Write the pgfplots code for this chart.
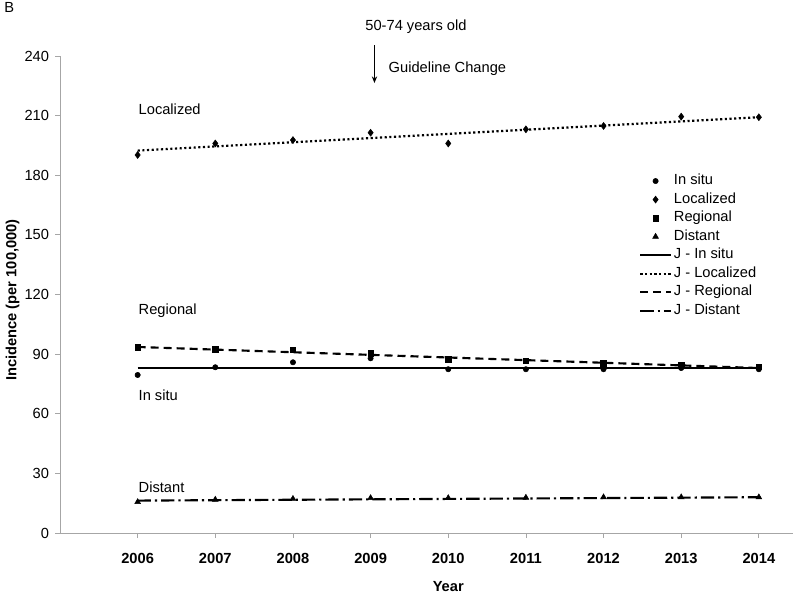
\documentclass[border=0pt]{standalone}
\usepackage{fontspec}
\setmainfont{Liberation Sans}
\usepackage{pgfplots}
\pgfplotsset{compat=1.18}
\usetikzlibrary{arrows.meta}
\begin{document}
\begin{tikzpicture}[font=\fontsize{11}{13}\selectfont]
\useasboundingbox (-45pt,-50.25pt) rectangle (555pt,399.75pt);
\begin{axis}[
  at={(0,0)}, anchor=south west,
  scale only axis, width=549.75pt, height=357.75pt,
  xmin=2005, xmax=2014.44, ymin=0, ymax=240,
  axis lines*=left,
  axis line style={draw=gray!70, line width=0.6pt},
  xtick={2006,2007,2008,2009,2010,2011,2012,2013,2014},
  ytick={0,30,60,90,120,150,180,210,240},
  tick align=outside, major tick length=3.75pt,
  tick style={draw=gray!70, line width=0.6pt},
  /pgf/number format/assume math mode=true,
  /pgf/number format/1000 sep={},
  xticklabel style={font=\bfseries\fontsize{11}{13}\selectfont, yshift=-8pt},
  yticklabel style={font=\fontsize{11}{13}\selectfont, xshift=-1pt},
  clip=false,
  legend style={draw=none, fill=none, at={(0.79,0.7574)}, anchor=north west,
    inner sep=0pt, row sep=0.3pt, font=\fontsize{11}{13}\selectfont,
    nodes={inner sep=1.6pt, text height=7.8pt, text depth=2.6pt}},
  legend cell align=left,
  legend image code/.code={\draw[mark repeat=2,mark phase=2,#1] plot coordinates {(0cm,0cm) (0.4cm,0cm) (0.8cm,0cm)};},
]
% observed points
\addplot[only marks, mark=*, mark size=2pt, black] coordinates {
 (2006,79.5) (2007,83.4) (2008,85.9) (2009,87.9) (2010,82.4) (2011,82.4) (2012,82.4) (2013,83.0) (2014,82.4)};
\addlegendentry{In situ}
\addplot[only marks, mark=diamond*, mark size=2.6pt, black] coordinates {
 (2006,190.2) (2007,196.0) (2008,197.7) (2009,201.4) (2010,196.0) (2011,203.1) (2012,204.8) (2013,209.5) (2014,209.2)};
\addlegendentry{Localized}
\addplot[only marks, mark=square*, mark size=2.1pt, black] coordinates {
 (2006,93.3) (2007,92.4) (2008,92.1) (2009,90.5) (2010,87.4) (2011,86.7) (2012,85.4) (2013,84.5) (2014,83.7)};
\addlegendentry{Regional}
\addplot[only marks, mark=triangle*, mark size=2.5pt, black] coordinates {
 (2006,15.6) (2007,16.8) (2008,17.2) (2009,17.6) (2010,17.6) (2011,17.8) (2012,18.0) (2013,18.0) (2014,18.0)};
\addlegendentry{Distant}
% joinpoint fits
\addplot[black, line width=1.5pt, no marks] coordinates {(2006,83.2) (2014,83.2)};
\addlegendentry{J - In situ}
\addplot[black, line width=1.6pt, dash pattern=on 1.6pt off 1.9pt, no marks] coordinates {(2006,192.4) (2014,209.2)};
\addlegendentry{J - Localized}
\addplot[black, line width=1.6pt, dash pattern=on 6pt off 3.75pt, no marks] coordinates {(2006,93.6) (2014,83.0)};
\addlegendentry{J - Regional}
\addplot[black, line width=1.6pt, dash pattern=on 10pt off 3pt on 1.6pt off 3pt, no marks] coordinates {(2006,16.3) (2014,18.0)};
\addlegendentry{J - Distant}
% annotations
\node[anchor=base west, inner sep=0pt] at (axis cs:2006.01,210.8) {Localized};
\node[anchor=base west, inner sep=0pt] at (axis cs:2006.01,109.7) {Regional};
\node[anchor=base west, inner sep=0pt] at (axis cs:2006.01,66.6) {In situ};
\node[anchor=base west, inner sep=0pt] at (axis cs:2006.01,20.6) {Distant};
\node[anchor=base west, inner sep=0pt] at (axis cs:2008.93,252.7) {50-74 years old};
\node[anchor=base west, inner sep=0pt] at (axis cs:2009.23,231.6) {Guideline Change};
\draw[-{Stealth[length=5pt,width=4pt]}, line width=0.6pt] (axis cs:2009.05,245.5) -- (axis cs:2009.05,226.4);
\node[anchor=base west, inner sep=0pt] at (axis cs:2004.28,262.1) {B};
\node[rotate=90, anchor=center, inner sep=0pt, font=\bfseries\fontsize{11}{13}\selectfont] at (axis cs:2004.39,117.2) {Incidence (per 100,000)};
\node[anchor=base, inner sep=0pt, font=\bfseries\fontsize{11}{13}\selectfont] at (axis cs:2010,-29.2) {Year};
\end{axis}
\end{tikzpicture}
\end{document}
